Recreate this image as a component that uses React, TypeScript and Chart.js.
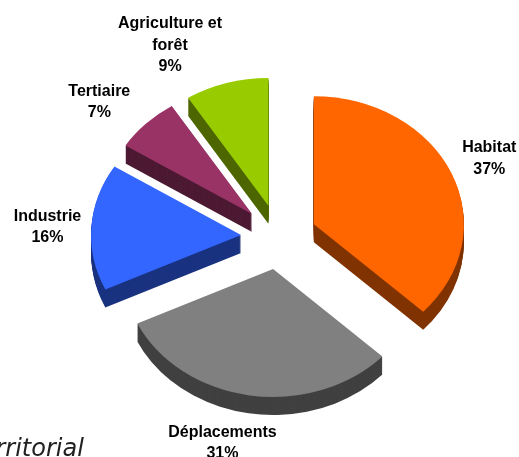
import { useEffect, useRef } from 'react';
import { Chart, registerables } from 'chart.js';

Chart.register(...registerables);

const CATEGORIES = ['Habitat', 'Déplacements', 'Industrie', 'Tertiaire', 'Agriculture et forêt'];
const LABEL_LINES = [['Habitat'], ['Déplacements'], ['Industrie'], ['Tertiaire'], ['Agriculture et', 'forêt']];
const VALUES = [37, 31, 16, 7, 9];
const TOP_COLORS = ['#FF6600', '#808080', '#3366FF', '#993366', '#99CC00'];
const SIDE_COLORS = ['#803300', '#404040', '#1A3380', '#4D1A33', '#4D6600'];
const CAPTION = 'Territorial';

// layout / style constants
const SQUASH = 0.853;
const EXPLODE = 38;
const DEPTH = 18;
const LABEL_RADIUS = 240;
const LABEL_NUDGE = [[-10, 3], [-19, 4], [8, 3], [-10, 10], [-42, 5]];
const LINE_H = 21.5;

const pie3d = {
  id: 'pie3d',
  beforeDatasetsDraw(chart: any) {
    const ctx = chart.ctx;
    const arcs = chart.getDatasetMeta(0).data as any[];
    if (!arcs.length) return false;
    const cy = arcs[0].y;
    ctx.save();
    ctx.translate(0, cy);
    ctx.scale(1, SQUASH);
    ctx.translate(0, -cy);
    for (let d = DEPTH; d >= 1; d--) {
      arcs.forEach((a, i) => {
        const mid = (a.startAngle + a.endAngle) / 2;
        const x = a.x + Math.cos(mid) * EXPLODE;
        const y = a.y + Math.sin(mid) * EXPLODE + d / SQUASH;
        ctx.beginPath();
        ctx.moveTo(x, y);
        ctx.arc(x, y, a.outerRadius, a.startAngle, a.endAngle);
        ctx.closePath();
        ctx.fillStyle = SIDE_COLORS[i];
        ctx.fill();
      });
    }
    arcs.forEach((a) => {
      const mid = (a.startAngle + a.endAngle) / 2;
      ctx.save();
      ctx.translate(Math.cos(mid) * EXPLODE, Math.sin(mid) * EXPLODE);
      a.draw(ctx);
      ctx.restore();
    });
    ctx.restore();
    return false;
  },
  afterDraw(chart: any) {
    const ctx = chart.ctx;
    const arcs = chart.getDatasetMeta(0).data as any[];
    ctx.save();
    ctx.fillStyle = '#000';
    ctx.textAlign = 'center';
    ctx.textBaseline = 'middle';
    ctx.font = 'bold 16px "Liberation Sans", Arial, sans-serif';
    arcs.forEach((a, i) => {
      const mid = (a.startAngle + a.endAngle) / 2;
      const lx = a.x + Math.cos(mid) * LABEL_RADIUS + LABEL_NUDGE[i][0];
      const ly = a.y + Math.sin(mid) * LABEL_RADIUS * SQUASH + LABEL_NUDGE[i][1];
      const lines = [...LABEL_LINES[i], `${VALUES[i]}%`];
      const top = ly - ((lines.length - 1) * LINE_H) / 2;
      lines.forEach((t, j) => ctx.fillText(t, lx, top + j * LINE_H));
    });
    ctx.textAlign = 'left';
    ctx.textBaseline = 'alphabetic';
    ctx.fillStyle = '#222';
    ctx.font = 'italic 24px "DejaVu Sans", sans-serif';
    ctx.fillText(CAPTION, -31, 456);
    ctx.restore();
  },
};

export default function App() {
  const ref = useRef<HTMLCanvasElement>(null);
  useEffect(() => {
    if (!ref.current) return;
    const chart = new Chart(ref.current, {
      type: 'pie',
      data: {
        labels: CATEGORIES,
        datasets: [{ data: VALUES, backgroundColor: TOP_COLORS, borderWidth: 0 }],
      },
      options: {
        responsive: false,
        animation: false,
        devicePixelRatio: 1,
        radius: 150,
        layout: { padding: { left: 39, top: 17, right: 0, bottom: 0 } },
        plugins: { legend: { display: false }, tooltip: { enabled: false } },
      } as any,
      plugins: [pie3d],
    });
    return () => chart.destroy();
  }, []);
  return (
    <div style={{ position: 'fixed', left: 0, top: 0, width: 519, height: 457, background: '#fff' }}>
      <canvas ref={ref} width={519} height={457} style={{ display: 'block' }} />
    </div>
  );
}
